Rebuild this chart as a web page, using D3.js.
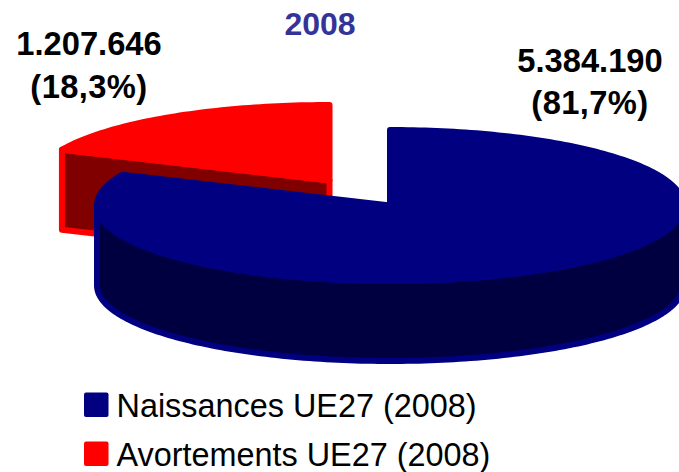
<!DOCTYPE html>
<html><head><meta charset="utf-8">
<style>html,body{margin:0;padding:0;background:#fff}svg{display:block}text{font-family:"Liberation Sans",Arial,sans-serif}</style>
<script src="https://cdn.jsdelivr.net/npm/d3@7/dist/d3.min.js"></script></head>
<body><script>
const categories = ["Naissances UE27 (2008)", "Avortements UE27 (2008)"];
const values = [5384190, 1207646];
const valueLabels = ["5.384.190", "1.207.646"];
const shareLabels = ["(81,7%)", "(18,3%)"];
const topColors = ["#000080", "#ff0000"];
const sideColors = ["#000040", "#800000"];
const title = "2008";

const W = 679, H = 472, rx = 293, ry = 75.5, depth = 80, sw = 6;
const centers = [[390, 205.5], [329.5, 180.5]];
const svg = d3.select("body").append("svg").attr("width", W).attr("height", H).attr("viewBox", `0 0 ${W} ${H}`);
const arcs = d3.pie().sort(null)(values);
const line = d3.line();
const pt = (c, a, dz = 0) => [c[0] + rx * Math.sin(a), c[1] - ry * Math.cos(a) + dz];
const sweep = (c, a0, a1, dz = 0) => {
  const n = Math.max(2, Math.ceil(Math.abs(a1 - a0) / 0.02));
  return d3.range(n + 1).map(i => pt(c, a0 + (a1 - a0) * i / n, dz));
};
const style = (p, i, fill) => p.attr("fill", fill).attr("stroke", topColors[i]).attr("stroke-width", sw).attr("stroke-linejoin", "round");

[1, 0].forEach(i => {
  const d = arcs[i], c = centers[i];
  const g = svg.append("g");
  if (d.startAngle > Math.PI) {
    const face = [pt(c, d.startAngle), c, [c[0], c[1] + depth], pt(c, d.startAngle, depth)];
    style(g.append("path").attr("d", line(face) + "Z"), i, sideColors[i]);
  }
  const a0 = Math.max(d.startAngle, Math.PI / 2), a1 = Math.min(d.endAngle, 3 * Math.PI / 2);
  if (a1 > a0) {
    const wall = sweep(c, a0, a1).concat(sweep(c, a1, a0, depth));
    style(g.append("path").attr("d", line(wall) + "Z"), i, sideColors[i]);
  }
  const top = [c].concat(sweep(c, d.startAngle, d.endAngle));
  style(g.append("path").attr("d", line(top) + "Z"), i, topColors[i]);
});

svg.append("text").attr("x", 320).attr("y", 35).attr("text-anchor", "middle")
  .attr("font-size", 32).attr("font-weight", 700).attr("fill", "#333399").text(title);

const labelPos = [[590, 72, 113.5], [89, 54.5, 98]];
values.forEach((v, i) => {
  const [x, y1, y2] = labelPos[i];
  svg.append("text").attr("x", x).attr("y", y1).attr("text-anchor", "middle")
    .attr("font-size", 32.7).attr("font-weight", 700).attr("fill", "#000").text(valueLabels[i]);
  svg.append("text").attr("x", x).attr("y", y2).attr("text-anchor", "middle").attr("letter-spacing", 0.4)
    .attr("font-size", 32.7).attr("font-weight", 700).attr("fill", "#000").text(shareLabels[i]);
});

const legendY = [392.5, 441.5];
categories.forEach((t, i) => {
  svg.append("rect").attr("x", 84).attr("y", legendY[i]).attr("width", 24.5).attr("height", 24.5)
    .attr("rx", 2).attr("fill", topColors[i]);
  svg.append("text").attr("x", 116.5).attr("y", legendY[i] + 24.5).attr("font-size", 32.4)
    .attr("fill", "#000").text(t);
});
</script></body></html>
